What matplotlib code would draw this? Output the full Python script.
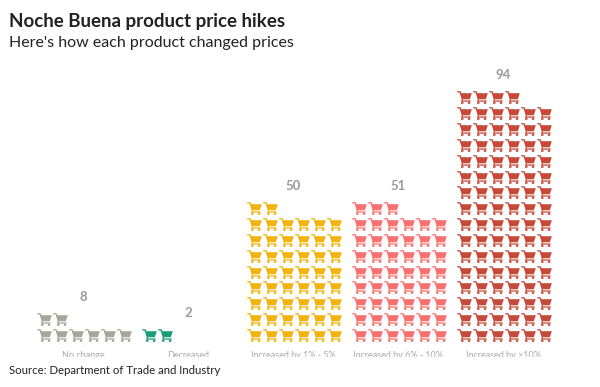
import matplotlib
matplotlib.use('Agg')
import matplotlib.pyplot as plt
from matplotlib.path import Path
from matplotlib.patches import Rectangle

#-------------------------data----------------------------------------
categories = ['No change', 'Decreased', 'Increased by 1% - 5%', 'Increased by 6% - 10%', 'Increased by >10%']
counts = [8, 2, 50, 51, 94]
colors = ['#A6A698', '#1B9C78', '#F0B30F', '#F8706D', '#C64A37']
per_row = 6

#-------------------------cart marker----------------------------------------
raw = [
    (0.0, 1.0), (0.22, 1.0), (0.30, 0.84), (1.0, 0.84), (0.86, 0.36), (0.38, 0.36), (0.40, 0.27), (0.92, 0.27),
    (0.92, 0.17), (0.26, 0.17), (0.31, 0.36), (0.16, 0.90), (0.0, 0.90), (0.0, 1.0),
    (0.27, 0.15), (0.43, 0.15), (0.43, 0.0), (0.27, 0.0), (0.27, 0.15),
    (0.73, 0.15), (0.89, 0.15), (0.89, 0.0), (0.73, 0.0), (0.73, 0.15),
]
# centre on 0 so the marker width equals sqrt(s) points, then flatten a bit
verts = [(x - 0.5, (y - 0.5) * 0.86) for x, y in raw]
codes = ([Path.MOVETO] + [Path.LINETO] * 12 + [Path.CLOSEPOLY]
         + [Path.MOVETO] + [Path.LINETO] * 3 + [Path.CLOSEPOLY]
         + [Path.MOVETO] + [Path.LINETO] * 3 + [Path.CLOSEPOLY])
cart = Path(verts, codes)

plt.rcParams['font.family'] = ['Lato', 'DejaVu Sans']
fig = plt.figure(figsize=(6, 3.87), dpi=100)

# one unit = one icon cell (16px), group spacing 105px
ax = fig.add_axes([0, 0, 1, 1])
ax.set_xlim(-44 / 16, (600 - 44) / 16)
ax.set_ylim(-(387 - 335) / 15.85, 335 / 15.85)
ax.axis('off')

group_step = 105 / 16
for g, (name, n, c) in enumerate(zip(categories, counts, colors)):
    xs = [g * group_step + i % per_row for i in range(n)]
    ys = [i // per_row for i in range(n)]
    ax.scatter(xs, ys, marker=cart, s=112, color=c, linewidths=0)
    center = g * group_step + 2.45
    top = (n - 1) // per_row
    ax.text(center, top + 1.4, str(n), ha='center', va='center',
            fontsize=9.5, fontweight='bold', color='#9A9A9A')
    ax.text(center, -1.27, name, ha='center', va='center', fontsize=6.5, color='#A8A8A8')

# labels are cut off by the source strip in the original
ax.add_patch(Rectangle((0, 0), 1, 30 / 387, transform=ax.transAxes, color='white', zorder=5))

fig.text(9 / 600, 1 - 21 / 387, 'Noche Buena product price hikes', fontsize=13.5, fontweight='bold',
         color='#222222', va='center')
fig.text(9 / 600, 1 - 43 / 387, "Here's how each product changed prices", fontsize=11.5,
         color='#222222', va='center')
fig.text(9 / 600, 1 - 371 / 387, 'Source: Department of Trade and Industry', fontsize=8.2,
         color='#222222', va='center', zorder=6)

fig.savefig('out.png', dpi=100)
